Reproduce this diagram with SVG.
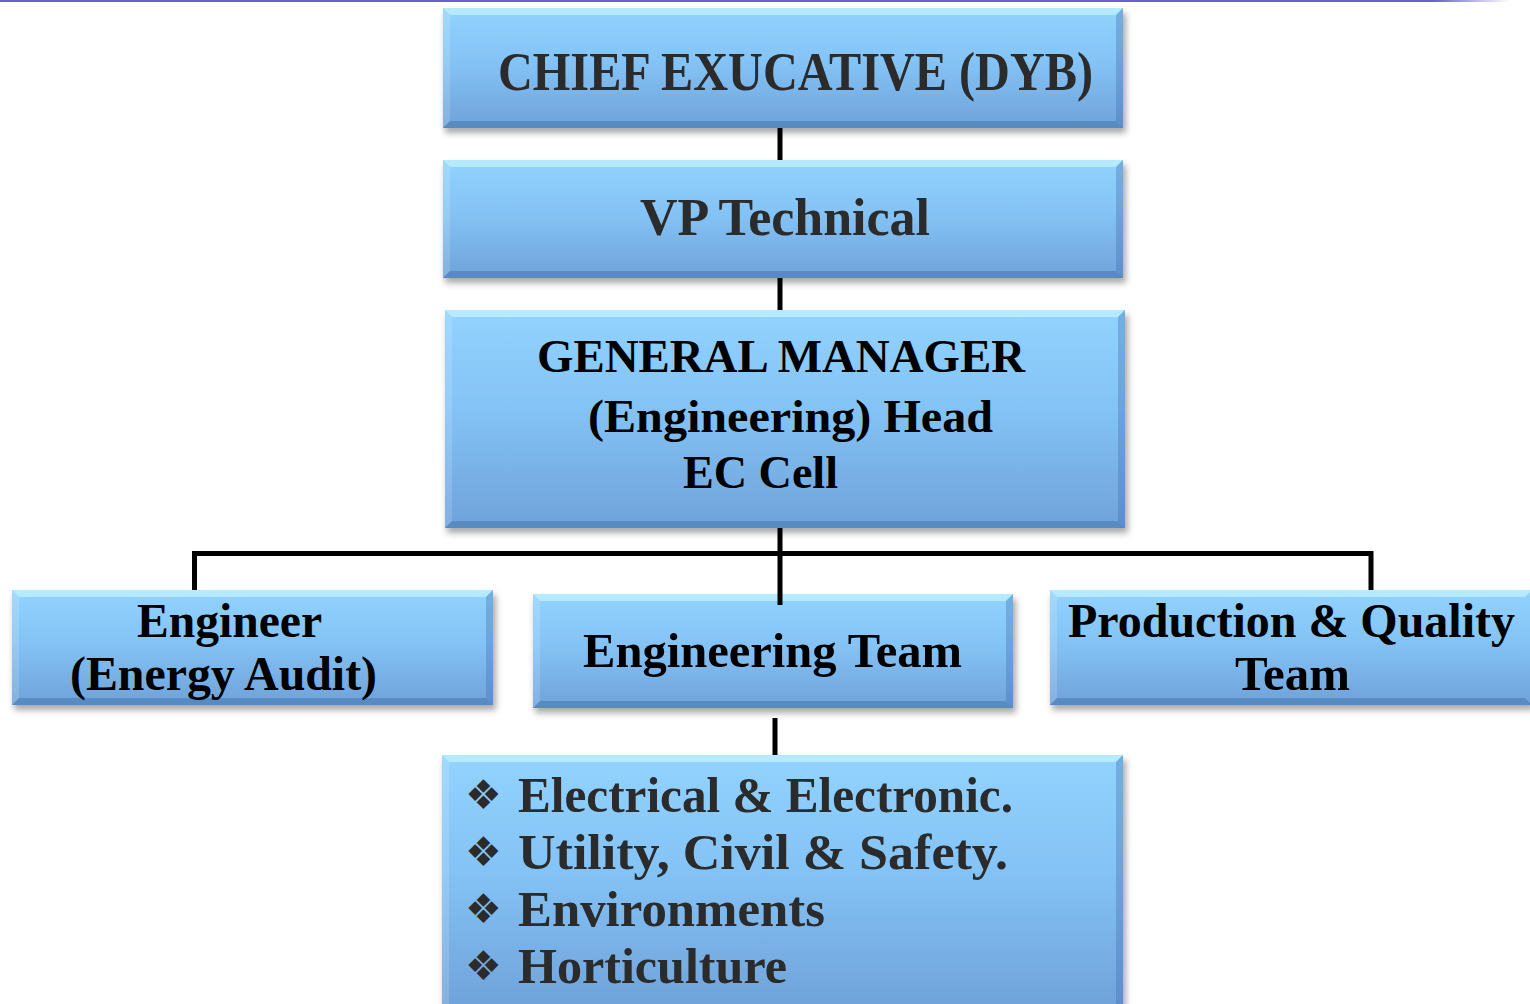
<svg xmlns="http://www.w3.org/2000/svg" width="1530" height="1004" viewBox="0 0 1530 1004">
<defs>
<linearGradient id="fill" x1="0" y1="0" x2="0" y2="1">
<stop offset="0" stop-color="#92d3ff"/>
<stop offset="0.45" stop-color="#84c3f5"/>
<stop offset="1" stop-color="#6fa2da"/>
</linearGradient>
<linearGradient id="topline" x1="0" y1="0" x2="1" y2="0">
<stop offset="0" stop-color="#6a60d4"/>
<stop offset="0.95" stop-color="#6a60d4"/>
<stop offset="1" stop-color="#ffffff"/>
</linearGradient>
<filter id="sh" x="-5%" y="-10%" width="110%" height="130%">
<feGaussianBlur stdDeviation="3"/>
</filter>
</defs>
<style>
.shadow{fill:#555;opacity:0.5;filter:url(#sh)}
.box{fill:url(#fill)}
.bt{fill:#c4f4ff;opacity:0.7}
.bl{fill:#ffffff;opacity:0.15}
.br{fill:#3d6ea8;opacity:0.35}
.bb{fill:#2f5f95;opacity:0.35}
.t{font-family:"Liberation Serif","Times New Roman",serif;font-weight:bold;fill:#000}
.g{fill:#2b2b2b}
.bul{font-family:"DejaVu Sans",sans-serif;fill:#2b2b2b}
.conn{stroke:#000;stroke-width:5;fill:none}
</style>
<rect x="0" y="0" width="1510" height="2" fill="url(#topline)"/>

<g id="n-chief">
<rect class="shadow" x="445" y="13" width="681" height="120"/>
<rect class="box" x="443" y="8" width="680" height="120"/>
<polygon class="bt" points="443,8 1123,8 1116,15 450,15"/>
<polygon class="bl" points="443,8 450,15 450,121 443,128"/>
<polygon class="br" points="1123,8 1123,128 1116,121 1116,15"/>
<polygon class="bb" points="443,128 450,121 1116,121 1123,128"/>
<text class="t g" x="498" y="90" font-size="54" textLength="595" lengthAdjust="spacingAndGlyphs">CHIEF EXUCATIVE (DYB)</text>
</g>

<g id="n-vp">
<rect class="shadow" x="445" y="165" width="681" height="118"/>
<rect class="box" x="443" y="160" width="680" height="118"/>
<polygon class="bt" points="443,160 1123,160 1116,167 450,167"/>
<polygon class="bl" points="443,160 450,167 450,271 443,278"/>
<polygon class="br" points="1123,160 1123,278 1116,271 1116,167"/>
<polygon class="bb" points="443,278 450,271 1116,271 1123,278"/>
<text class="t g" x="640" y="235" font-size="52" textLength="290" lengthAdjust="spacingAndGlyphs">VP Technical</text>
</g>

<g id="n-gm">
<rect class="shadow" x="447" y="315" width="681" height="218"/>
<rect class="box" x="445" y="310" width="680" height="218"/>
<polygon class="bt" points="445,310 1125,310 1118,317 452,317"/>
<polygon class="bl" points="445,310 452,317 452,521 445,528"/>
<polygon class="br" points="1125,310 1125,528 1118,521 1118,317"/>
<polygon class="bb" points="445,528 452,521 1118,521 1125,528"/>
<text class="t" x="537" y="372" font-size="46" textLength="488" lengthAdjust="spacingAndGlyphs">GENERAL MANAGER</text>
<text class="t" x="588" y="432" font-size="46" textLength="405" lengthAdjust="spacingAndGlyphs">(Engineering) Head</text>
<text class="t" x="683" y="488" font-size="46" textLength="155" lengthAdjust="spacingAndGlyphs">EC Cell</text>
</g>

<g id="n-engineer">
<rect class="shadow" x="14" y="595" width="482" height="115"/>
<rect class="box" x="12" y="590" width="481" height="115"/>
<polygon class="bt" points="12,590 493,590 486,597 19,597"/>
<polygon class="bl" points="12,590 19,597 19,698 12,705"/>
<polygon class="br" points="493,590 493,705 486,698 486,597"/>
<polygon class="bb" points="12,705 19,698 486,698 493,705"/>
<text class="t" x="137" y="637" font-size="48" textLength="185" lengthAdjust="spacingAndGlyphs">Engineer</text>
<text class="t" x="70" y="690" font-size="48" textLength="307" lengthAdjust="spacingAndGlyphs">(Energy Audit)</text>
</g>

<g id="n-engteam">
<rect class="shadow" x="535" y="599" width="481" height="114"/>
<rect class="box" x="533" y="594" width="480" height="114"/>
<polygon class="bt" points="533,594 1013,594 1006,601 540,601"/>
<polygon class="bl" points="533,594 540,601 540,701 533,708"/>
<polygon class="br" points="1013,594 1013,708 1006,701 1006,601"/>
<polygon class="bb" points="533,708 540,701 1006,701 1013,708"/>
<text class="t" x="583" y="667" font-size="48" textLength="379" lengthAdjust="spacingAndGlyphs">Engineering Team</text>
</g>

<g id="n-prod">
<rect class="shadow" x="1052" y="595" width="482" height="115"/>
<rect class="box" x="1050" y="590" width="482" height="115"/>
<polygon class="bt" points="1050,590 1532,590 1525,597 1057,597"/>
<polygon class="bl" points="1050,590 1057,597 1057,698 1050,705"/>
<polygon class="bb" points="1050,705 1057,698 1525,698 1532,705"/>
<text class="t" x="1068" y="637" font-size="48" textLength="447" lengthAdjust="spacingAndGlyphs">Production &amp; Quality</text>
<text class="t" x="1235" y="690" font-size="48" textLength="115" lengthAdjust="spacingAndGlyphs">Team</text>
</g>

<g id="n-list">
<rect class="shadow" x="444" y="760" width="682" height="250"/>
<rect class="box" x="442" y="755" width="681" height="255"/>
<polygon class="bt" points="442,755 1123,755 1116,762 449,762"/>
<polygon class="bl" points="442,755 449,762 449,1004 442,1004"/>
<polygon class="br" points="1123,755 1123,1004 1116,1004 1116,762"/>
<text class="bul" x="465" y="809" font-size="41">❖</text>
<text class="bul" x="465" y="866" font-size="41">❖</text>
<text class="bul" x="465" y="923" font-size="41">❖</text>
<text class="bul" x="465" y="980" font-size="41">❖</text>
<text class="t g" x="518" y="812" font-size="50" textLength="495" lengthAdjust="spacingAndGlyphs">Electrical &amp; Electronic.</text>
<text class="t g" x="518" y="869" font-size="50" textLength="490" lengthAdjust="spacingAndGlyphs">Utility, Civil &amp; Safety.</text>
<text class="t g" x="518" y="926" font-size="50" textLength="307" lengthAdjust="spacingAndGlyphs">Environments</text>
<text class="t g" x="518" y="983" font-size="50" textLength="269" lengthAdjust="spacingAndGlyphs">Horticulture</text>
</g>

<g id="connectors">
<line class="conn" x1="780" y1="128" x2="780" y2="160"/>
<line class="conn" x1="780" y1="278" x2="780" y2="310"/>
<line class="conn" x1="780" y1="528" x2="780" y2="605"/>
<polyline class="conn" points="194.5,590 194.5,553.5 1371,553.5 1371,590"/>
<line class="conn" x1="775" y1="718" x2="775" y2="755"/>
</g>
</svg>
